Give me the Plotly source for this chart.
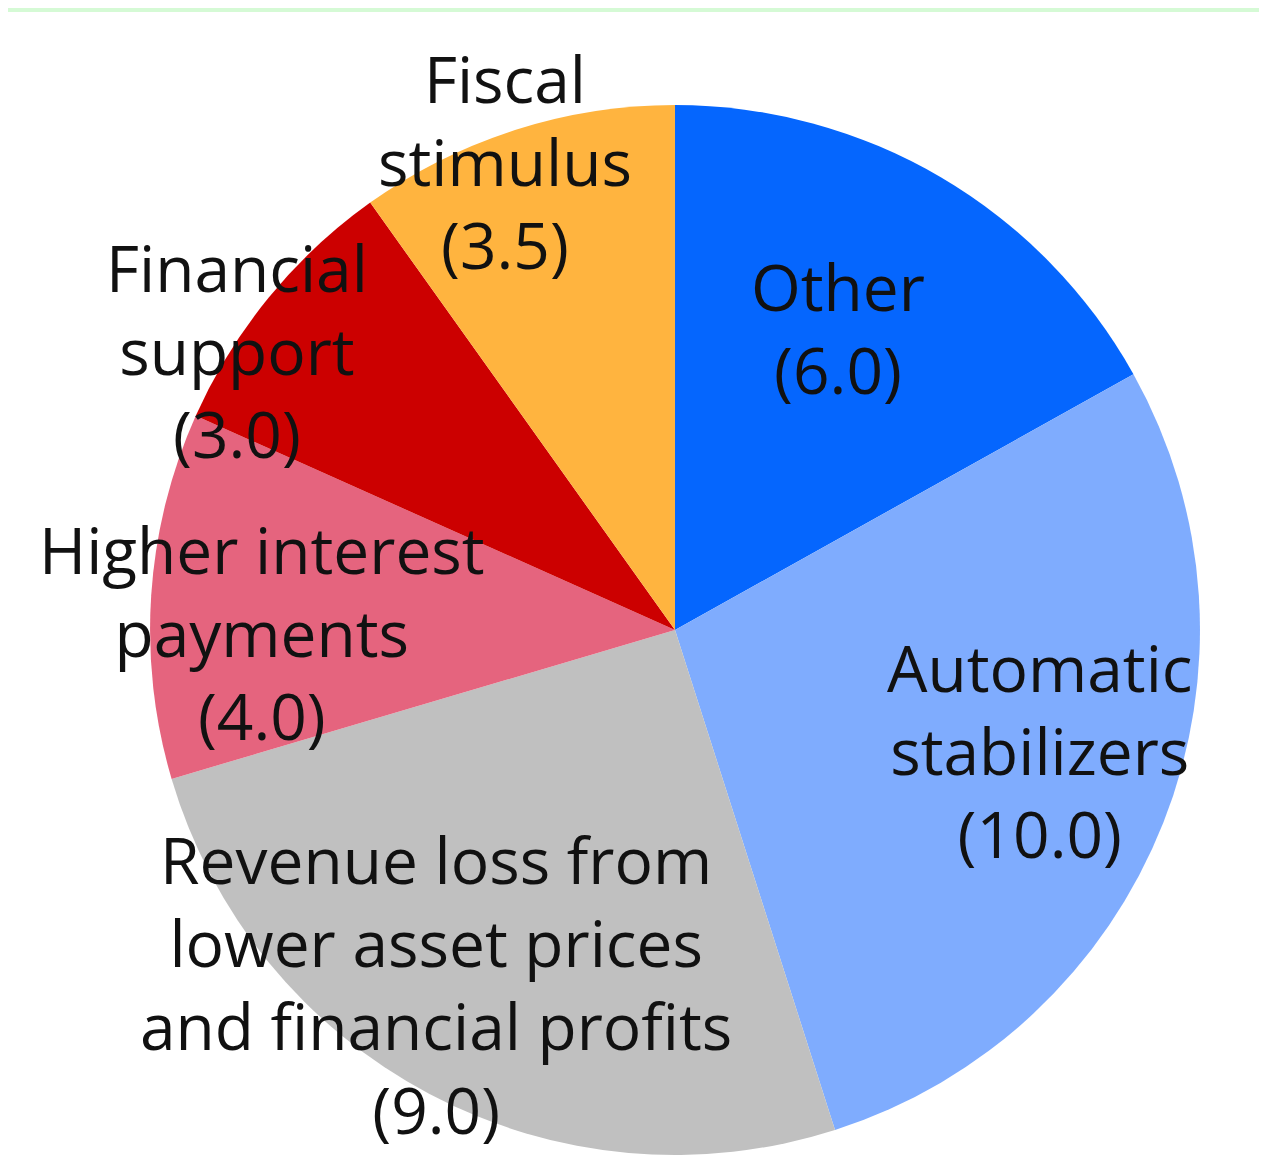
import plotly.graph_objects as go

# Data
categories = ["Other", "Automatic stabilizers",
              "Revenue loss from lower asset prices and financial profits",
              "Higher interest payments", "Financial support", "Fiscal stimulus"]
values = [6.0, 10.0, 9.0, 4.0, 3.0, 3.5]
label_lines = [
    ["Other"],
    ["Automatic", "stabilizers"],
    ["Revenue loss from", "lower asset prices", "and financial profits"],
    ["Higher interest", "payments"],
    ["Financial", "support"],
    ["Fiscal", "stimulus"],
]
colors = ["#0566FE", "#7FACFE", "#C0C0C0", "#E5647E", "#CC0000", "#FFB43F"]

W, H = 1267, 1176
OFF = 8  # page body margin offset
# label anchor positions (pixels from top-left of page), styling only
label_pos = [(838, 328), (1039, 750), (436, 984), (262, 632), (237, 350), (505, 162)]

fig = go.Figure()
fig.add_trace(go.Pie(
    labels=categories, values=values, sort=False, direction="clockwise",
    rotation=0, marker=dict(colors=colors, line=dict(width=0)),
    textinfo="none", hoverinfo="label+value", showlegend=False,
    domain=dict(x=[0.1121, 0.9408], y=[0.0247, 0.9175]),
))

for lines, v, (px, py) in zip(label_lines, values, label_pos):
    text = "<br>".join(lines + [f"({v:.1f})"])
    fig.add_annotation(
        x=(px - OFF) / W, y=1 - (py - OFF) / H, xref="paper", yref="paper",
        text=text, showarrow=False, xanchor="center", yanchor="middle",
        align="center",
        font=dict(family="Open Sans", size=64, color="#111111"),
    )

fig.add_shape(type="rect", xref="paper", yref="paper",
              x0=0, x1=1, y0=1 - 4 / H, y1=1,
              fillcolor="#D5FAD5", line=dict(width=0), layer="below")

fig.update_layout(
    width=W, height=H, margin=dict(l=0, r=0, t=0, b=0),
    paper_bgcolor="white", plot_bgcolor="white",
)
fig.write_html("out.html")
